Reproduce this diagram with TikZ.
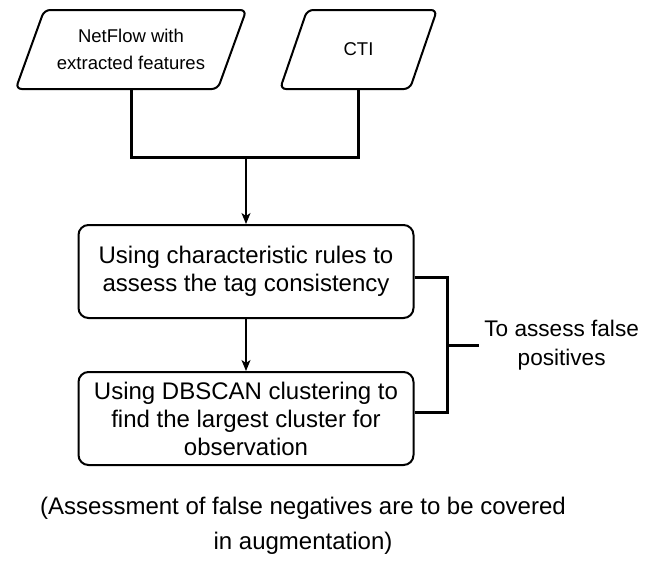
\documentclass[tikz,border=0pt]{standalone}
\usepackage{fontspec}
\setmainfont{Liberation Sans}
\usetikzlibrary{arrows.meta,positioning,calc,shapes.geometric}
\tikzset{
  inbox/.style={draw, trapezium, trapezium left angle=59, trapezium right angle=121, trapezium stretches=true, rounded corners=3pt, line width=1pt, align=center, inner sep=0pt, minimum height=39.5pt, font=\fontsize{9.25}{13.5}\selectfont},
  stepbox/.style={draw, rounded corners=5pt, line width=1pt, align=center, inner sep=0pt, minimum width=167.5pt, minimum height=46.5pt, font=\fontsize{12}{14}\selectfont},
  note/.style={align=center, inner sep=2.5pt, font=\fontsize{11.3}{14.5}\selectfont},
  joinline/.style={line width=1.5pt},
  line/.style={-{Stealth[length=5.5pt, width=4.5pt, inset=1.5pt]}, line width=0.65pt}
}

\begin{document}
\begin{tikzpicture}[x=0.5pt, y=-0.5pt]
  \useasboundingbox (0,0) rectangle (663,562);
  % inputs
  \node[inbox, minimum width=116pt] (nf) at (131,49.5) {NetFlow with\\extracted features};
  \node[inbox, minimum width=78.5pt] (cti) at (358.5,49.5) {CTI};
  \coordinate (mid) at (246,157);
  % steps
  \node[stepbox] (tag) at (246,271.5) {Using characteristic rules to\\assess the tag consistency};
  \node[stepbox] (db) at (246,418.5) {Using DBSCAN clustering to\\find the largest cluster for\\observation};
  \coordinate (brk) at (447,345);
  \node[note, anchor=west] (fp) at (479,345) {To assess false\\positives};
  \node[align=center, font=\fontsize{12}{17.5}\selectfont] (fn) at (303,526) {(Assessment of false negatives are to be covered\\in augmentation)};
  % connectors
  \draw[joinline] (nf.center |- nf.south) -- (nf.center |- mid) -- (cti.center |- mid) -- (cti.center |- cti.south);
  \draw[line] (mid) -- (tag.north);
  \draw[line] (tag) -- (db);
  \draw[joinline] ([yshift=-3pt]tag.east) -| (brk) |- ([yshift=3pt]db.east);
  \draw[joinline] (brk) -- (fp.west);
\end{tikzpicture}
\end{document}
